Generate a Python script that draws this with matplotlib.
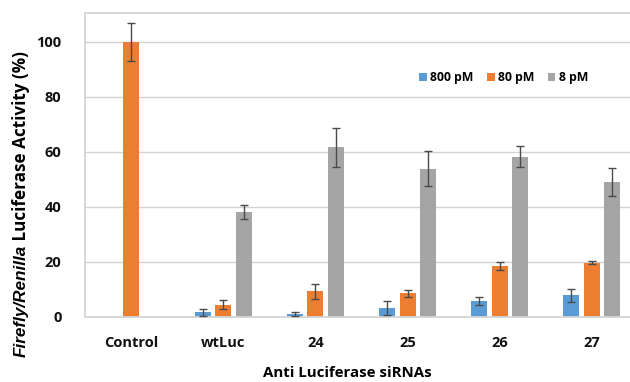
import numpy as np
import matplotlib.pyplot as plt

# values
categories = ['Control', 'wtLuc', '24', '25', '26', '27']
series = ['800 pM', '80 pM', '8 pM']
vals_800 = [np.nan, 1.7, 1.2, 3.4, 5.7, 7.9]
err_800 = [np.nan, 1.2, 0.7, 2.5, 1.4, 2.3]
vals_80 = [100.0, 4.5, 9.3, 8.6, 18.5, 19.8]
err_80 = [7.0, 1.5, 2.6, 1.3, 1.4, 0.7]
vals_8 = [np.nan, 38.3, 61.7, 53.9, 58.3, 49.0]
err_8 = [np.nan, 2.5, 7.0, 6.3, 3.7, 5.0]
yticks = [0, 20, 40, 60, 80, 100]

colors = ['#5B9BD5', '#ED7D31', '#A5A5A5']
plt.rcParams['font.family'] = ['Open Sans', 'DejaVu Sans']
plt.rcParams['font.weight'] = 'bold'

W, H = 630, 382
fig = plt.figure(figsize=(W / 100, H / 100), dpi=100)
ax = fig.add_axes([85 / W, 1 - 317 / H, (638 - 85) / W, (317 - 13.3) / H])

x = np.arange(len(categories))
width = 0.174
offsets = [-0.223, 0.0, 0.223]
for vals, errs, off, col, lab in zip([vals_800, vals_80, vals_8],
                                     [err_800, err_80, err_8],
                                     offsets, colors, series):
    v = np.array(vals, dtype=float)
    e = np.array(errs, dtype=float)
    ax.bar(x + off, np.nan_to_num(v), width, color=col, label=lab, zorder=2)
    ax.errorbar(x + off, v, yerr=e, fmt='none', ecolor='#4a4a4a',
                elinewidth=1.0, capsize=3, capthick=1.0, zorder=3)

ax.set_xlim(-0.5, len(categories) - 0.5)
ax.set_ylim(0, 110.4)
ax.set_yticks(yticks)
ax.set_xticks(x)
ax.set_xticklabels(categories)
ax.yaxis.grid(True, color='#d4d4d4', linewidth=1.0, zorder=0)
ax.set_axisbelow(True)
ax.tick_params(axis='both', length=0, labelsize=10.5, colors='#111111')
ax.tick_params(axis='y', pad=17)
ax.tick_params(axis='x', pad=14)
for s in ['left', 'top', 'bottom']:
    ax.spines[s].set_color('#d4d4d4')
    ax.spines[s].set_linewidth(1.3)
ax.spines['right'].set_visible(False)

leg = ax.legend(loc='center', bbox_to_anchor=(504 / W, 1 - 78 / H),
                bbox_transform=fig.transFigure, ncol=3, frameon=False,
                handlelength=0.6, handleheight=0.6, handletextpad=0.3,
                columnspacing=1.1, prop={'size': 8.8, 'weight': 'bold'})

fig.text(347 / W, 1 - 373 / H, 'Anti Luciferase siRNAs', ha='center',
         va='center', fontsize=10.8, fontweight='bold')

# y label with italic pieces, stacked bottom to top
pieces = [('Firefly/Renilla', 'italic', 'Liberation Sans'),
          (' Luciferase Activity (%)', 'normal', 'Open Sans')]
fig.canvas.draw()
renderer = fig.canvas.get_renderer()
ypos = 357.0
for txt, style, fam in pieces:
    t = fig.text(21 / W, 1 - ypos / H, txt, rotation=90, ha='center',
                 va='bottom', fontsize=12.3, fontweight='bold',
                 fontstyle=style, family=[fam, 'DejaVu Sans'])
    bb = t.get_window_extent(renderer)
    ypos -= bb.height

fig.savefig('out.png', dpi=100)
